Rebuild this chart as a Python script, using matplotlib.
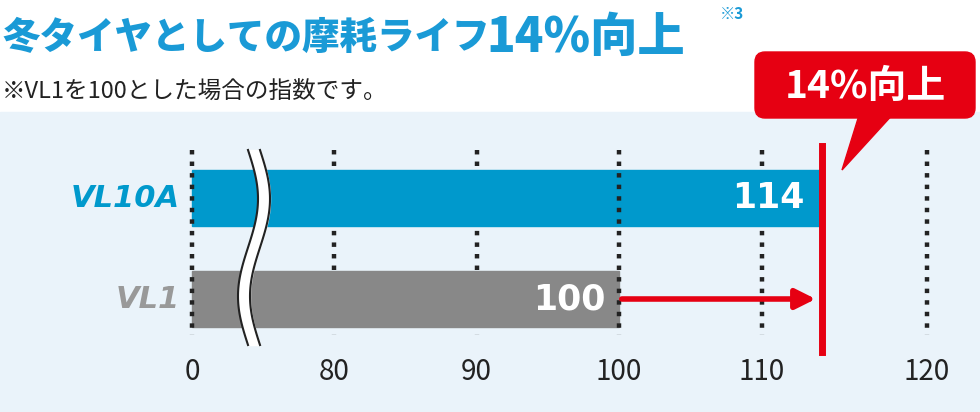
import matplotlib
matplotlib.use('Agg')
import matplotlib.pyplot as plt
from matplotlib.patches import Rectangle, FancyBboxPatch, Polygon
import numpy as np

plt.rcParams['font.family'] = ['Noto Sans CJK JP', 'DejaVu Sans']

products = ['VL10A', 'VL1']
values = [114, 100]
bar_colors = ['#0099cc', '#888888']
label_colors = ['#0099cc', '#999999']
ticks = [0, 80, 90, 100, 110, 120]
blue = '#1a9ad6'
red = '#e60012'

# pixel scale with a break between 0 and 80
def xpos(v):
    return 192 if v == 0 else 334 + (v - 80) * 14.25

fig = plt.figure(figsize=(9.8, 4.12), dpi=100)
ax = fig.add_axes([0, 0, 1, 1])
ax.set_xlim(0, 980)
ax.set_ylim(412, 0)
ax.axis('off')

ax.add_patch(Rectangle((0, 112), 980, 300, color='#eaf3fa', zorder=0))

# dotted grid
for t in ticks:
    x = xpos(t) if t != 120 else 927
    z = 3 if t in (0, 100) else 1
    ax.plot([x, x], [150, 335], ls=(0, (1, 1.6)), lw=3.2, color='#222', zorder=z)
    ax.text(x, 372, str(t), ha='center', va='center', fontsize=20, color='#222')

ys = [198, 299]
for p, v, c, lc, y in zip(products, values, bar_colors, label_colors, ys):
    ax.add_patch(Rectangle((192, y - 28), xpos(v) - 192, 56, color=c, zorder=2))
    ax.text(xpos(v) - 14, y, str(v), ha='right', va='center', fontsize=25,
            fontweight='bold', color='white', zorder=4, family='DejaVu Sans')
    ax.text(180, y, p, ha='right', va='center', fontsize=22, fontweight='heavy',
            style='italic', color=lc, family='DejaVu Sans')

# break mark
yy = np.linspace(150, 345, 100)
wave = 10 * np.sin((yy - 150) / 195 * 2 * np.pi)
for dx in (0, 12):
    ax.plot(248 + dx + wave, yy, color='#222', lw=1.5, zorder=3.5)
ax.fill_betweenx(yy, 248 + wave, 260 + wave, color='white', zorder=3.2)

# arrow and red line
ax.annotate('', xy=(xpos(values[0]), ys[1]), xytext=(xpos(values[1]), ys[1]),
            arrowprops=dict(arrowstyle='-|>,head_length=1.2,head_width=0.6', color=red, lw=4), zorder=5)
ax.plot([xpos(values[0]) + 3] * 2, [146, 352], color=red, lw=5, zorder=5)

# callout
ax.add_patch(FancyBboxPatch((755, 52), 220, 66, boxstyle='round,pad=0,rounding_size=10', color=red, zorder=5))
ax.add_patch(Polygon([(860, 112), (895, 112), (842, 170)], color=red, zorder=5))
ax.text(865, 86, '14%向上', ha='center', va='center', fontsize=28, fontweight='bold', color='white', zorder=6)

# title
ax.text(2, 38, '冬タイヤとしての摩耗ライフ', ha='left', va='center', fontsize=27, fontweight='heavy', color=blue)
ax.text(486, 38, '14%向上', ha='left', va='center', fontsize=34, fontweight='heavy', color=blue)
ax.text(720, 14, '※3', ha='left', va='center', fontsize=11, fontweight='bold', color=blue)
ax.text(2, 92, '※VL1を100とした場合の指数です。', ha='left', va='center', fontsize=17, color='#222')

fig.savefig('out.png', dpi=100)
